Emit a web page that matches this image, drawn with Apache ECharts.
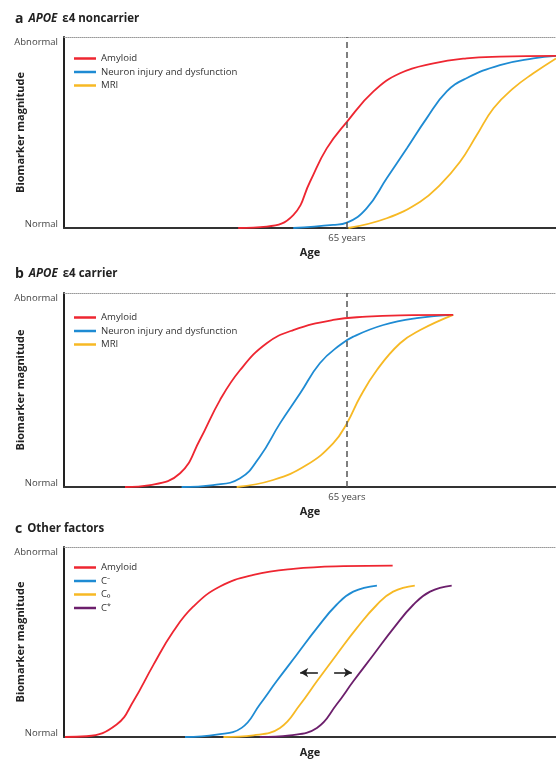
<!DOCTYPE html>
<html><head><meta charset="utf-8">
<script src="https://cdn.jsdelivr.net/npm/echarts@6/dist/echarts.min.js"></script>
<style>html,body{margin:0;padding:0;background:#fff}#c{width:556px;height:760px}</style>
</head><body><div id="c"></div>
<script>
// ---- data (x: arbitrary age scale 0-100, y: biomarker magnitude 0-100) ----
const yTickLabels = {0: 'Normal', 100: 'Abnormal'};
const markerAgeX = 57.5;           // 65 years
const markerAgeLabel = '65 years';

const aAmyloid = [[35.4,0],[41.2,0.7],[46.6,6.8],[50.0,24.2],[53.4,41.7],[57.5,55.6],[62.9,71.5],[68.3,81.0],[75.1,86.2],[81.8,88.8],[88.6,89.7],[100,90.1]];
const aNeuron  = [[46.6,0],[54.7,1.6],[57.5,2.8],[61.5,10.3],[65.6,26.0],[69.7,41.7],[73.7,57.4],[77.8,71.5],[81.8,78.4],[88.6,85.3],[95.4,88.8],[100,90.1]];
const aMRI     = [[57.8,0],[65.6,5.1],[72.4,13.8],[76.4,22.5],[80.5,34.7],[83.9,48.7],[87.3,62.7],[91.3,73.1],[95.4,81.0],[100,88.8]];

const bAmyloid = [[12.4,0],[17.5,1.0],[23.6,7.1],[27.6,24.2],[31.7,44.8],[35.8,60.3],[41.2,74.1],[46.6,80.9],[54.7,86.1],[61.5,87.8],[68.3,88.5],[79.1,88.7]];
const bNeuron  = [[23.9,0],[30.3,1.0],[35.8,4.5],[39.8,15.6],[43.9,32.8],[48.0,48.3],[52.0,63.8],[56.1,73.2],[58.8,77.5],[64.9,83.5],[71.7,87.0],[79.1,88.7]];
const bMRI     = [[35.1,0],[42.5,3.6],[49.3,11.3],[54.7,22.5],[57.5,32.8],[60.2,46.5],[63.6,60.3],[68.3,74.1],[72.4,80.9],[79.1,88.7]];

const cAmyloid = [[0.2,0],[4.6,0.4],[10.7,6.6],[14.1,18.8],[18.2,38.1],[22.2,55.5],[26.3,68.7],[31.7,79.2],[38.5,85.3],[46.6,88.5],[56.8,89.9],[66.8,90.2]];
const cMinus   = [[24.6,0],[31.0,1.3],[36.1,4.8],[39.8,17.1],[43.2,29.3],[47.3,43.3],[51.4,57.3],[55.4,69.6],[58.8,76.5],[63.6,79.7]];
const cZero    = [[32.4,0],[38.5,0.9],[43.9,4.8],[48.0,17.1],[51.4,29.3],[55.4,43.3],[59.5,57.3],[63.6,69.6],[66.9,76.5],[71.3,79.7]];
const cStar    = [[39.8,0],[45.9,0.9],[51.4,4.8],[55.4,17.1],[58.8,29.3],[62.9,43.3],[67.0,57.3],[71.0,69.6],[74.4,76.5],[78.8,79.7]];

const arrowLeft  = [[51.6,33.9],[48.0,33.9]];
const arrowRight = [[54.9,33.9],[58.5,33.9]];

const seriesNamesAB = ['Amyloid','Neuron injury and dysfunction','MRI'];
const seriesNamesC  = ['Amyloid','C⁻','C₀','C*'];

// ---- styles ----
const RED='#ee2631', BLUE='#1e8bd3', YEL='#f7b924', PUR='#6c1f6c';
const FONT='Open Sans';
const gridBase = {left:64, right:0, outerBoundsMode:'none', containLabel:false};
const grids = [
  Object.assign({top:37, height:191}, gridBase),
  Object.assign({top:293, height:194}, gridBase),
  Object.assign({top:547, height:190}, gridBase)
];

function bottomX(gi, withMarker){
  return {
    type:'value', gridIndex:gi, min:0, max:100,
    interval: withMarker ? markerAgeX : 100,
    name:'Age', nameLocation:'middle', nameGap: withMarker ? 19 : 10, nameMoveOverlap:false,
    nameTextStyle:{fontFamily:FONT, fontWeight:'bold', fontSize:11, color:'#222'},
    axisLine:{show:true, lineStyle:{color:'#333', width:2}},
    axisTick:{show:false}, splitLine:{show:false},
    axisLabel:{show:withMarker, showMaxLabel:false, showMinLabel:false, margin:5,
      fontFamily:FONT, fontSize:9.5, color:'#444',
      formatter:v => Math.abs(v-markerAgeX)<1e-6 ? markerAgeLabel : ''}
  };
}
function topX(gi){
  return {type:'value', gridIndex:gi, min:0, max:100, position:'top',
    axisLine:{show:true, lineStyle:{color:'#999', width:1, type:'dotted'}},
    axisTick:{show:false}, axisLabel:{show:false}, splitLine:{show:false}};
}
function leftY(gi){
  return {
    type:'value', gridIndex:gi, min:0, max:100, interval:100,
    name:'Biomarker magnitude', nameLocation:'middle', nameGap:38, nameMoveOverlap:false,
    nameTextStyle:{fontFamily:FONT, fontWeight:'bold', fontSize:11, color:'#222'},
    axisLine:{show:true, lineStyle:{color:'#222', width:2}},
    axisTick:{show:false}, splitLine:{show:false},
    axisLabel:{margin:6, fontFamily:FONT, fontSize:9.5, color:'#444',
      formatter:v => v===100 ? '{hi|'+yTickLabels[v]+'}' : (v===0 ? '{lo|'+yTickLabels[v]+'}' : ''),
      rich:{
        hi:{fontFamily:FONT, fontSize:9.5, color:'#444', padding:[11,0,0,0]},
        lo:{fontFamily:FONT, fontSize:9.5, color:'#444', padding:[0,0,8,0]}
      }}
  };
}
function line(name, data, color, xi, yi, extra){
  return Object.assign({
    type:'line', name, data, xAxisIndex:xi, yAxisIndex:yi,
    smooth:0.45, showSymbol:false, symbol:'none',
    lineStyle:{color, width:1.8}, itemStyle:{color}, silent:true, z:3
  }, extra||{});
}
const dashedMarker = {
  silent:true, symbol:'none', animation:false,
  lineStyle:{color:'#555', width:1.5, type:[6,4]}, label:{show:false},
  data:[{xAxis:markerAgeX}]
};
const arrows = {
  silent:true, symbol:['none','arrow'], symbolSize:[7,8], animation:false,
  lineStyle:{color:'#222', width:1.6, type:'solid'}, label:{show:false},
  data:[[{coord:arrowLeft[0]},{coord:arrowLeft[1]}],[{coord:arrowRight[0]},{coord:arrowRight[1]}]]
};

function legend(top, names){
  return {
    orient:'vertical', left:69, top, icon:'rect', itemWidth:22, itemHeight:2.5, itemGap:2.5,
    data:names, selectedMode:false,
    textStyle:{fontFamily:FONT, fontSize:9.6, color:'#333', lineHeight:11,
      rich:{b:{fontFamily:FONT, fontSize:9.6, color:'#333'}, s:{fontFamily:FONT, fontSize:7, color:'#333', verticalAlign:'top', padding:[0,0,3,0]}}},
    formatter: n => n==='C*' ? '{b|C}{s|*}' : n
  };
}
function title(top, letter, italic, rest){
  return {
    left:10, top,
    text: italic ? `{l|${letter}} {i|${italic}} {n|${rest}}` : `{l|${letter}} {n|${rest}}`,
    textStyle:{rich:{
      l:{fontFamily:FONT, fontWeight:'bold', fontSize:14, color:'#222'},
      i:{fontFamily:FONT, fontWeight:'bold', fontStyle:'italic', fontSize:11.5, color:'#222'},
      n:{fontFamily:FONT, fontWeight:'bold', fontSize:11.5, color:'#222'}
    }}
  };
}

const option = {
  animation:false,
  backgroundColor:'#fff',
  title:[
    title(5,'a','APOE','ε4 noncarrier'),
    title(260,'b','APOE','ε4 carrier'),
    title(515,'c',null,'Other factors')
  ],
  legend:[ legend(48, seriesNamesAB), legend(307, seriesNamesAB), legend(557, seriesNamesC) ],
  grid: grids,
  xAxis:[ bottomX(0,true), topX(0), bottomX(1,true), topX(1), bottomX(2,false), topX(2) ],
  yAxis:[ leftY(0), leftY(1), leftY(2) ],
  series:[
    line(seriesNamesAB[0], aAmyloid, RED, 0, 0, {markLine:dashedMarker, z:4}),
    line(seriesNamesAB[1], aNeuron, BLUE, 0, 0),
    line(seriesNamesAB[2], aMRI, YEL, 0, 0),
    line(seriesNamesAB[0], bAmyloid, RED, 2, 1, {markLine:dashedMarker, z:4}),
    line(seriesNamesAB[1], bNeuron, BLUE, 2, 1),
    line(seriesNamesAB[2], bMRI, YEL, 2, 1),
    line(seriesNamesC[0], cAmyloid, RED, 4, 2),
    line(seriesNamesC[1], cMinus, BLUE, 4, 2),
    line(seriesNamesC[2], cZero, YEL, 4, 2, {markLine:arrows}),
    line(seriesNamesC[3], cStar, PUR, 4, 2)
  ]
};
const chart = echarts.init(document.getElementById('c'), null, {renderer:'canvas'});
chart.setOption(option);
</script>
</body></html>
